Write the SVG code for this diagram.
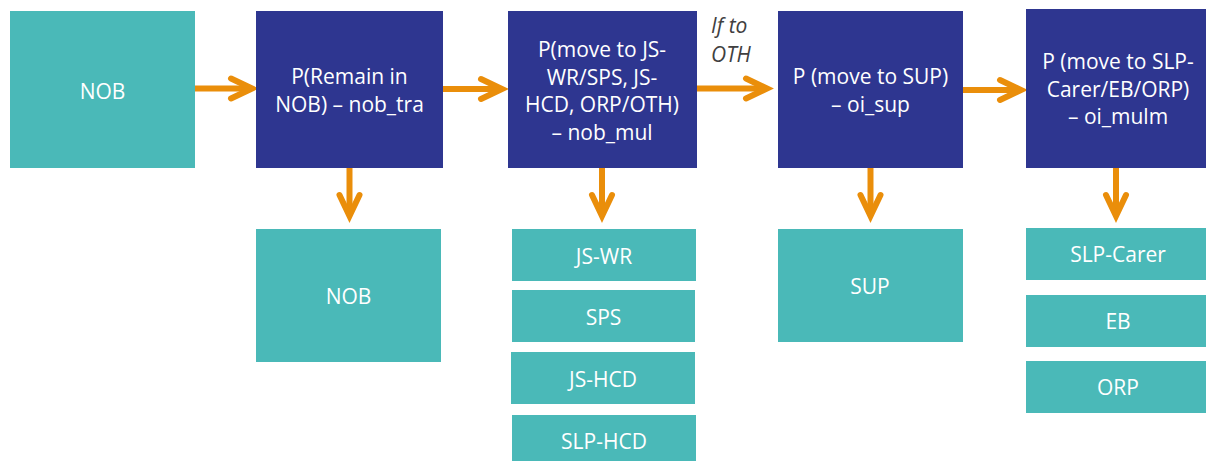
<svg xmlns="http://www.w3.org/2000/svg" width="1206" height="461" viewBox="0 0 1206 461">
<defs>
<style>
.teal{fill:#4ab9b8}
.navy{fill:#2e3690}
.t{font-family:"Open Sans","Liberation Sans",sans-serif;font-size:21px;fill:#ffffff;text-anchor:middle}
.lbl{font-family:"Open Sans","Liberation Sans",sans-serif;font-size:21px;font-style:italic;fill:#404040}
.con{stroke:#ea8e0a;stroke-width:6;fill:none}
</style>
<marker id="ah" markerUnits="userSpaceOnUse" viewBox="-26 -15 30 30" markerWidth="30" markerHeight="30" refX="-3" refY="0" orient="auto" overflow="visible">
<path d="M-21,-10 L0,0 L-21,10" fill="none" stroke="#ea8e0a" stroke-width="6" stroke-linecap="round" stroke-linejoin="miter"/>
</marker>
</defs>
<rect width="1206" height="461" fill="#ffffff"/>
<g id="connectors" class="con" marker-end="url(#ah)">
<line x1="195" y1="88.5" x2="249" y2="88.5"/>
<line x1="443" y1="89" x2="499" y2="89"/>
<line x1="697" y1="88.5" x2="764" y2="88.5"/>
<line x1="963" y1="90" x2="1018" y2="90"/>
<line x1="349.5" y1="168" x2="349.5" y2="213"/>
<line x1="602" y1="168" x2="602" y2="213"/>
<line x1="870.5" y1="168" x2="870.5" y2="213"/>
<line x1="1116" y1="168" x2="1116" y2="213"/>
</g>
<g id="edge-label">
<text class="lbl" x="711" y="33">If to</text>
<text class="lbl" x="711" y="62">OTH</text>
</g>
<g id="nob-start"><rect class="teal" x="10" y="11" width="185" height="157"/><text class="t" x="102.5" y="99">NOB</text></g>
<g id="nob-tra"><rect class="navy" x="256" y="11" width="187" height="157"/><text class="t" x="349.5" y="84">P(Remain in</text><text class="t" x="349.5" y="112">NOB) – nob_tra</text></g>
<g id="nob-mul"><rect class="navy" x="508" y="11" width="189" height="157"/><text class="t" x="602" y="57">P(move to JS-</text><text class="t" x="602" y="84.5">WR/SPS, JS-</text><text class="t" x="602" y="112">HCD, ORP/OTH)</text><text class="t" x="602" y="140">– nob_mul</text></g>
<g id="oi-sup"><rect class="navy" x="778" y="11" width="185" height="157"/><text class="t" x="870.5" y="83.5">P (move to SUP)</text><text class="t" x="870.5" y="111.5">– oi_sup</text></g>
<g id="oi-mulm"><rect class="navy" x="1026" y="9" width="187" height="159"/><text class="t" x="1118" y="68.5">P (move to SLP-</text><text class="t" x="1118" y="96.5">Carer/EB/ORP)</text><text class="t" x="1118" y="124">– oi_mulm</text></g>
<g id="nob-end"><rect class="teal" x="256" y="229" width="185" height="133"/><text class="t" x="348.5" y="303.5">NOB</text></g>
<g id="js-wr"><rect class="teal" x="512" y="229" width="184" height="52"/><text class="t" x="604" y="263.5">JS-WR</text></g>
<g id="sps"><rect class="teal" x="512" y="290" width="183" height="52"/><text class="t" x="603.5" y="325">SPS</text></g>
<g id="js-hcd"><rect class="teal" x="511" y="352" width="184" height="52"/><text class="t" x="603" y="387">JS-HCD</text></g>
<g id="slp-hcd"><rect class="teal" x="512" y="415" width="184" height="52"/><text class="t" x="604" y="448.5">SLP-HCD</text></g>
<g id="sup"><rect class="teal" x="778" y="229" width="185" height="113"/><text class="t" x="870" y="293.5">SUP</text></g>
<g id="slp-carer"><rect class="teal" x="1026" y="228" width="187" height="52"/><text class="t" x="1118" y="262">SLP-Carer</text></g>
<g id="eb"><rect class="teal" x="1026" y="295" width="187" height="52"/><text class="t" x="1118" y="328.5">EB</text></g>
<g id="orp"><rect class="teal" x="1026" y="361" width="187" height="52"/><text class="t" x="1118" y="395">ORP</text></g>
</svg>
